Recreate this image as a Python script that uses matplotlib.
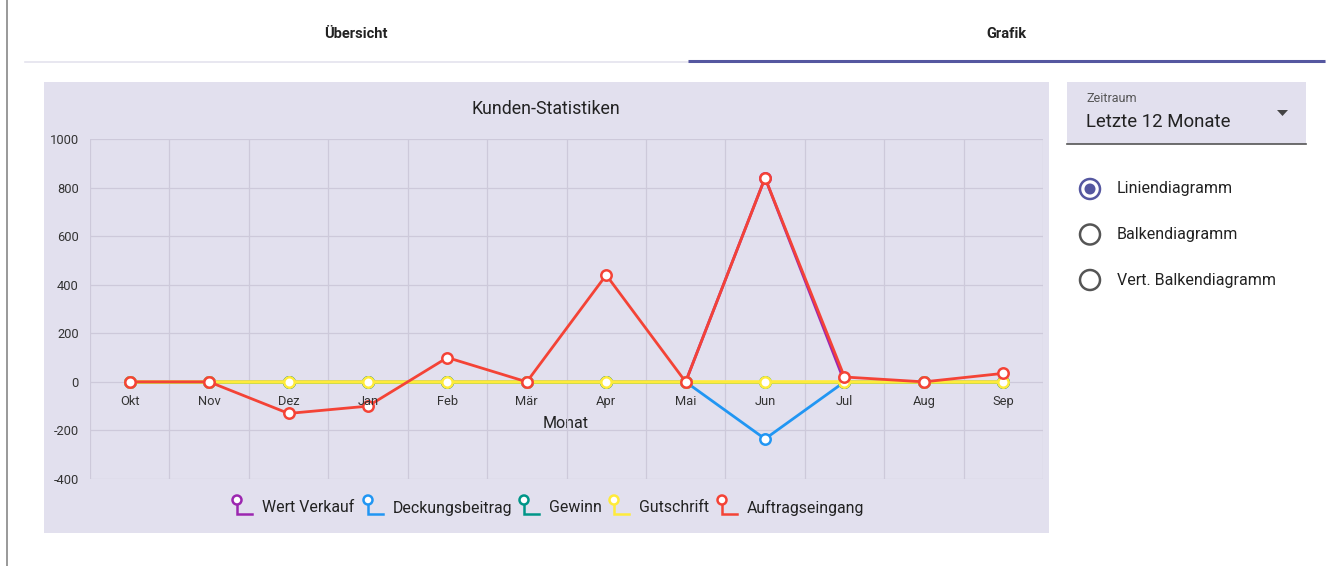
import matplotlib.pyplot as plt
from matplotlib.patches import Rectangle, Circle, Polygon

plt.rcParams['font.family'] = ['Roboto', 'DejaVu Sans']

# --- data ---
months = ["Okt", "Nov", "Dez", "Jan", "Feb", "Mär", "Apr", "Mai", "Jun", "Jul", "Aug", "Sep"]
wert_verkauf = [0, 0, 0, 0, 0, 0, 0, 0, 840, 0, 0, 0]
deckungsbeitrag = [0, 0, 0, 0, 0, 0, 0, 0, -235, 0, 0, 0]
gewinn = [0, 0, 0, 0, 0, 0, 0, 0, 0, 0, 0, 0]
gutschrift = [0, 0, 0, 0, 0, 0, 0, 0, 0, 0, 0, 0]
auftragseingang = [0, 0, -130, -100, 100, 0, 440, 0, 840, 20, 0, 35]

series_names = ["Wert Verkauf", "Deckungsbeitrag", "Gewinn", "Gutschrift", "Auftragseingang"]
series_values = [wert_verkauf, deckungsbeitrag, gewinn, gutschrift, auftragseingang]
series_colors = ["#9c27b0", "#2196f3", "#009688", "#ffeb3b", "#f44336"]

y_ticks = [-400, -200, 0, 200, 400, 600, 800, 1000]
chart_options = ["Liniendiagramm", "Balkendiagramm", "Vert. Balkendiagramm"]

W, H = 1331, 566
fig = plt.figure(figsize=(W / 100, H / 100), dpi=100)

# overlay in pixel coords for the page decorations
bg = fig.add_axes([0, 0, 1, 1], zorder=0)
bg.set_xlim(0, W)
bg.set_ylim(H, 0)
bg.axis("off")

panel_col = "#e2e0ee"
indigo = "#5557a0"
text_col = "#222222"

# left border line
bg.plot([7, 7], [0, H], color="#888888", lw=1.2)

# tabs
bg.text(356, 34, "Übersicht", ha="center", va="center", fontsize=10.5, fontweight="bold", color=text_col)
bg.text(1006, 34, "Grafik", ha="center", va="center", fontsize=10.5, fontweight="bold", color=text_col)
bg.plot([25, 1325], [62, 62], color="#e4e3ee", lw=1.2)
bg.plot([688, 1325], [60.5, 60.5], color=indigo, lw=2.2, solid_capstyle="butt")

# chart panel
bg.add_patch(Rectangle((44, 82), 1005, 451, facecolor=panel_col, edgecolor="none"))
bg.text(546, 109, "Kunden-Statistiken", ha="center", va="center", fontsize=12.8, color=text_col)
bg.text(566, 423, "Monat", ha="center", va="center", fontsize=11.5, color=text_col)

# legend drawn by hand (pin-shaped icons)
leg_x = [237, 368, 524, 614, 722]
for x0, name, col in zip(leg_x, series_names, series_colors):
    bg.plot([x0, x0, x0 + 15], [502, 514, 514], color=col, lw=1.8, solid_joinstyle="miter")
    bg.add_patch(Circle((x0, 500), 4.5, facecolor="white", edgecolor=col, lw=1.8, zorder=3))
    bg.text(x0 + 25, 508, name, ha="left", va="center", fontsize=11.4, color=text_col)

# dropdown
bg.add_patch(Rectangle((1067, 82), 239, 62, facecolor=panel_col, edgecolor="none"))
bg.plot([1067, 1306], [144, 144], color="#555555", lw=1.2)
bg.text(1086, 98, "Zeitraum", ha="left", va="center", fontsize=9, color="#555555")
bg.text(1086, 122, "Letzte 12 Monate", ha="left", va="center", fontsize=13.4, color=text_col)
bg.add_patch(Polygon([[1277, 110], [1288, 110], [1282.5, 116]], closed=True, facecolor="#444444", edgecolor="none"))

# radio buttons
for i, opt in enumerate(chart_options):
    cy = 189 + i * 45.5
    edge = indigo if i == 0 else "#555555"
    bg.add_patch(Circle((1090, cy), 10, facecolor="white", edgecolor=edge, lw=1.8))
    if i == 0:
        bg.add_patch(Circle((1090, cy), 5.5, facecolor=indigo, edgecolor="none"))
    bg.text(1117, cy, opt, ha="left", va="center", fontsize=11.5, color=text_col)

# --- the chart itself ---
left, right, top, bottom = 90, 1043, 139, 479
ax = fig.add_axes([left / W, 1 - bottom / H, (right - left) / W, (bottom - top) / H], zorder=1)
ax.set_facecolor("none")

x = list(range(len(months)))
for vals, col in zip(series_values, series_colors):
    lw = 2.6 if col == "#ffeb3b" else 2.0   # yellow sits on the zero line, keep it visible
    ax.plot(x, vals, color=col, lw=lw, marker="o", markersize=7.5,
            markerfacecolor="white", markeredgecolor=col, markeredgewidth=1.8,
            clip_on=False, zorder=3)

ax.set_xlim(-0.5, len(months) - 0.5)
ax.set_ylim(-400, 1000)
ax.set_yticks(y_ticks)
ax.set_yticklabels([str(v) for v in y_ticks], fontsize=9.3, color="#333333")
ax.set_xticks([i + 0.5 for i in range(-1, len(months))])
ax.set_xticklabels([])
ax.tick_params(length=0, pad=8)
ax.grid(True, color="#cdc9da", lw=0.9)
for s in ax.spines.values():
    s.set_visible(False)

# month labels sit just below the zero line
for i, m in enumerate(months):
    ax.annotate(m, (i, 0), xytext=(0, -14), textcoords="offset points",
                ha="center", va="center", fontsize=9.3, color="#333333", zorder=5)

fig.savefig("out.png", dpi=100)
